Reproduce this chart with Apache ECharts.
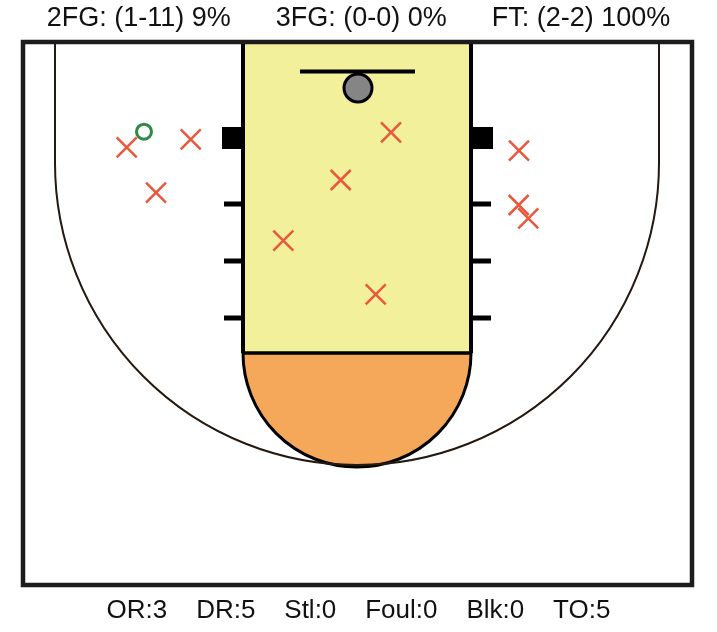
<!DOCTYPE html>
<html>
<head>
<meta charset="utf-8">
<script src="https://cdn.jsdelivr.net/npm/echarts@6/dist/echarts.min.js"></script>
<style>
html,body{margin:0;padding:0;background:#fff;}
#chart{width:717px;height:632px;}
</style>
</head>
<body>
<div id="chart"></div>
<script>
// Shot chart data (court units; origin = top-left corner of court box, y grows downward)
const missX = [103.7, 167.7, 133.0, 368.0, 317.7, 260.3, 352.7, 496.0, 495.7, 505.3];
const missY = [105.3, 97.3, 150.7, 90.3, 138.0, 198.7, 252.3, 108.7, 163.0, 176.3];
const makeX = [121.0];
const makeY = [89.7];
const titleParts = ["2FG: (1-11) 9%", "3FG: (0-0) 0%", "FT: (2-2) 100%"];
const footerParts = ["OR:3", "DR:5", "Stl:0", "Foul:0", "Blk:0", "TO:5"];

const COURT_W = 669, COURT_H = 543;

const chart = echarts.init(document.getElementById('chart'), null, {renderer: 'canvas'});

function renderCourt(params, api) {
  const P = (x, y) => api.coord([x, y]);
  const s = api.size([1, 1]);
  const sx = s[0];
  const children = [];
  const laneL = 220, laneR = 448, ftY = 311, cx = 334;
  // paint
  const a = P(laneL, 0), b = P(laneR, ftY);
  children.push({type: 'rect', shape: {x: a[0], y: a[1], width: b[0] - a[0], height: b[1] - a[1]},
    style: {fill: '#f3f09b', stroke: null}});
  // free throw half circle (lower)
  const c = P(cx, ftY);
  children.push({type: 'sector', shape: {cx: c[0], cy: c[1], r: 114 * sx, r0: 0, startAngle: 0, endAngle: Math.PI, clockwise: true},
    style: {fill: '#f5a85a', stroke: '#000', lineWidth: 3}});
  // 3pt line
  const tc = P(cx, 121);
  children.push({type: 'arc', shape: {cx: tc[0], cy: tc[1], r: 302 * sx, startAngle: 0, endAngle: Math.PI, clockwise: true},
    style: {fill: null, stroke: '#24180f', lineWidth: 2}});
  [32, 636].forEach(x => {
    const p1 = P(x, 0), p2 = P(x, 121);
    children.push({type: 'line', shape: {x1: p1[0], y1: p1[1], x2: p2[0], y2: p2[1]},
      style: {stroke: '#24180f', lineWidth: 2}});
  });
  // lane lines
  [laneL, laneR].forEach(x => {
    const p1 = P(x, 0), p2 = P(x, ftY);
    children.push({type: 'line', shape: {x1: p1[0], y1: p1[1], x2: p2[0], y2: p2[1]},
      style: {stroke: '#000', lineWidth: 4}});
  });
  const f1 = P(laneL, ftY), f2 = P(laneR, ftY);
  children.push({type: 'line', shape: {x1: f1[0], y1: f1[1], x2: f2[0], y2: f2[1]},
    style: {stroke: '#000', lineWidth: 3}});
  // blocks
  [[199, laneL], [laneR, 470]].forEach(([x1, x2]) => {
    const q1 = P(x1, 85), q2 = P(x2, 107);
    children.push({type: 'rect', shape: {x: q1[0], y: q1[1], width: q2[0] - q1[0], height: q2[1] - q1[1]},
      style: {fill: '#000'}});
  });
  // hash marks
  [162, 219, 276].forEach(y => {
    [[201, laneL], [laneR, 468]].forEach(([x1, x2]) => {
      const h1 = P(x1, y), h2 = P(x2, y);
      children.push({type: 'line', shape: {x1: h1[0], y1: h1[1], x2: h2[0], y2: h2[1]},
        style: {stroke: '#000', lineWidth: 5}});
    });
  });
  // backboard
  const bb1 = P(277, 29.5), bb2 = P(392, 29.5);
  children.push({type: 'line', shape: {x1: bb1[0], y1: bb1[1], x2: bb2[0], y2: bb2[1]},
    style: {stroke: '#000', lineWidth: 4}});
  // rim
  const r = P(335, 46);
  children.push({type: 'circle', shape: {cx: r[0], cy: r[1], r: 14 * sx},
    style: {fill: '#858585', stroke: '#000', lineWidth: 3}});
  // border
  const o1 = P(0, 0), o2 = P(COURT_W, COURT_H);
  children.push({type: 'rect', shape: {x: o1[0], y: o1[1], width: o2[0] - o1[0], height: o2[1] - o1[1]},
    style: {fill: null, stroke: '#1c1c1c', lineWidth: 4.5}});
  return {type: 'group', children: children};
}

const option = {
  animation: false,
  backgroundColor: '#ffffff',
  title: [
    {text: titleParts.join('      '), left: 'center', top: 0,
      textStyle: {fontFamily: 'Liberation Sans', fontSize: 27, fontWeight: 'normal', color: '#111'}},
    {text: footerParts.join('    '), left: 'center', top: 593,
      textStyle: {fontFamily: 'Liberation Sans', fontSize: 26, fontWeight: 'normal', color: '#111'}}
  ],
  grid: {left: 23, top: 42, width: COURT_W, height: COURT_H},
  xAxis: {type: 'value', min: 0, max: COURT_W, show: false},
  yAxis: {type: 'value', min: 0, max: COURT_H, inverse: true, show: false},
  series: [
    {type: 'custom', renderItem: renderCourt, data: [[0, 0]], silent: true, clip: false, z: 1},
    {type: 'scatter', name: 'Miss', z: 5,
      data: missX.map((x, i) => [x, missY[i]]),
      symbol: 'path://M0,0L10,10M10,0L0,10', symbolSize: 20,
      itemStyle: {color: 'rgba(0,0,0,0)', borderColor: '#e9573c', borderWidth: 2.5, opacity: 1}},
    {type: 'scatter', name: 'Make', z: 6,
      data: makeX.map((x, i) => [x, makeY[i]]),
      symbol: 'circle', symbolSize: 15,
      itemStyle: {color: 'rgba(0,0,0,0)', borderColor: '#2f8a48', borderWidth: 3, opacity: 1}}
  ]
};
chart.setOption(option);
</script>
</body>
</html>
